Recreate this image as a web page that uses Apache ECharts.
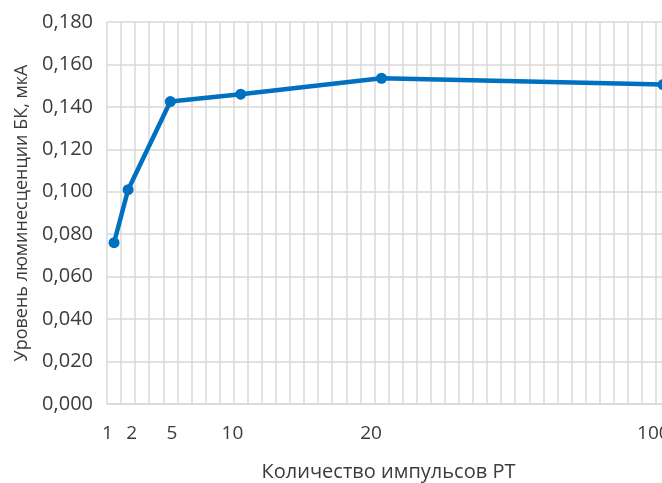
<!DOCTYPE html>
<html>
<head>
<meta charset="utf-8">
<script src="https://cdn.jsdelivr.net/npm/echarts@6/dist/echarts.min.js"></script>
<style>
html,body{margin:0;padding:0;background:#fff;overflow:hidden;width:662px;height:483px;}
#chart{width:670px;height:483px;}
</style>
</head>
<body>
<div id="chart"></div>
<script>
// pulse count positions on the axis (one grid cell per unit)
const xPositions = [1, 2, 5, 10, 20, 40];
// luminescence level, µA
const luminescence = [0.076, 0.101, 0.1425, 0.146, 0.1535, 0.1505];
// x tick labels and where they sit along the axis
const xTickLabels = ['1', '2', '5', '10', '20', '100'];
const xTickAnchors = [0.53, 2.26, 5.12, 9.41, 19.26, 39.32];
const yTitle = 'Уровень люминесценции БК, мкА';
const xTitle = 'Количество импульсов РТ';

const gridLines = [];
for (let v = 0.5; v <= 40.5; v += 1) gridLines.push(v);

const font = 'Open Sans';
const txt = '#3b3b3b';
const chart = echarts.init(document.getElementById('chart'), null, {renderer: 'canvas'});
chart.setOption({
  animation: false,
  backgroundColor: '#ffffff',
  grid: {left: 107, top: 22, right: 0, bottom: 79, containLabel: false, outerBoundsMode: 'none'},
  xAxis: {
    type: 'value', min: 0.5, max: 40.5,
    name: xTitle, nameLocation: 'middle', nameGap: 58,
    nameTextStyle: {fontFamily: font, fontSize: 20, color: txt},
    axisLine: {show: true, lineStyle: {color: '#d9d9d9', width: 1.5}},
    axisTick: {show: false, customValues: gridLines},
    splitLine: {show: true, lineStyle: {color: '#d9d9d9', width: 1.5}},
    axisLabel: {
      customValues: xTickAnchors, margin: 20,
      fontFamily: font, fontSize: 19, color: txt,
      formatter: function (v) {
        let best = 0;
        for (let i = 1; i < xTickAnchors.length; i++)
          if (Math.abs(xTickAnchors[i] - v) < Math.abs(xTickAnchors[best] - v)) best = i;
        return xTickLabels[best];
      }
    }
  },
  yAxis: {
    type: 'value', min: 0, max: 0.18, interval: 0.02,
    name: yTitle, nameLocation: 'middle', nameGap: 75,
    nameTextStyle: {fontFamily: font, fontSize: 18, color: txt},
    axisLine: {show: false}, axisTick: {show: false},
    splitLine: {show: true, lineStyle: {color: '#d9d9d9', width: 1.5}},
    axisLabel: {
      margin: 14, fontFamily: font, fontSize: 20, color: txt,
      formatter: v => v.toFixed(3).replace('.', ',')
    }
  },
  series: [{
    type: 'line',
    data: xPositions.map((x, i) => [x, luminescence[i]]),
    symbol: 'circle', symbolSize: 11,
    lineStyle: {color: '#0070c0', width: 4.5},
    itemStyle: {color: '#0070c0'},
    clip: false
  }]
});
</script>
</body>
</html>
